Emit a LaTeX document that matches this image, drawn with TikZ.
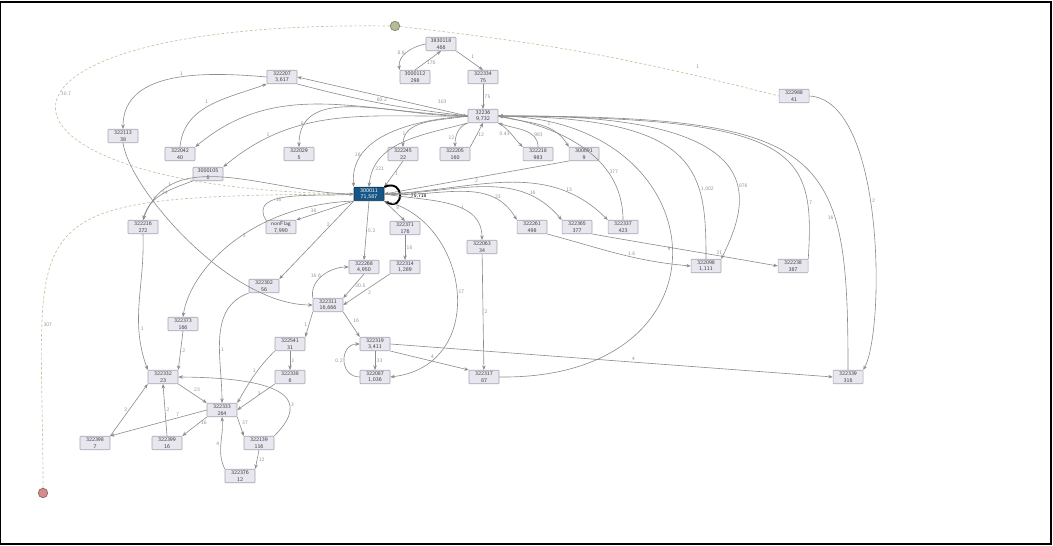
\documentclass[tikz,border=0pt]{standalone}
\usetikzlibrary{arrows.meta}
\definecolor{boxfill}{RGB}{232,230,238}
\definecolor{boxline}{RGB}{165,163,175}
\definecolor{mainblue}{RGB}{22,86,135}
\definecolor{edgegray}{RGB}{140,140,140}
\definecolor{startgreen}{RGB}{178,188,150}
\definecolor{endred}{RGB}{212,140,140}
\definecolor{dashcol}{RGB}{195,198,165}
\tikzset{
  >={Stealth[length=0.9mm,width=0.7mm]},
  box/.style={draw=boxline,fill=boxfill,line width=0.3pt,rounded corners=0.4pt,
    minimum width=0.6cm,minimum height=0.27cm,inner sep=0.3pt,align=center,
    font=\fontsize{3.2}{3.9}\selectfont\sffamily,text=black!75},
  mainbox/.style={box,fill=mainblue,draw=mainblue!60!black,text=white},
  startpt/.style={circle,draw=startgreen!70!black,fill=startgreen,minimum size=0.19cm,inner sep=0pt},
  endpt/.style={circle,draw=endred!70!black,fill=endred,minimum size=0.19cm,inner sep=0pt},
  ed/.style={->,draw=edgegray,line width=0.35pt},
  dashl/.style={draw=dashcol,line width=0.4pt,dash pattern=on 1.5pt off 1.2pt},
  loopst/.style={->,draw=black,line width=1.1pt},
  lab/.style={font=\fontsize{3}{3.5}\selectfont\sffamily,text=gray!85,inner sep=0.8pt}
}
\begin{document}
\begin{tikzpicture}[x=0.02cm,y=-0.02cm]
\useasboundingbox (0,0) rectangle (1053,546);
\draw[black,line width=0.6pt] (0.5,2) rectangle (1051,544);

% start and end
\node[startpt] (start) at (395,26) {};
\node[endpt] (end) at (43,493) {};

% nodes
\node[box] (n3830118) at (441,44) {3830118\\466};
\node[box] (n3000112) at (415,77) {3000112\\298};
\node[box] (n322334) at (483,77) {322334\\75};
\node[box] (n32236) at (483,116) {32236\\9,732};
\node[box] (n322207) at (282,77) {322207\\3,617};
\node[box] (n322113) at (123,136) {322113\\38};
\node[box] (n322042) at (180,154) {322042\\40};
\node[box] (n3000105) at (208,174) {3000105\\6};
\node[box] (n322029) at (299,154) {322029\\5};
\node[box] (n322245) at (403,154) {322245\\22};
\node[box] (n322205) at (455,154) {322205\\160};
\node[box] (n322218) at (538,154) {322218\\983};
\node[box] (n300091) at (584,154) {300091\\9};
\node[box] (n322988) at (794,96) {322988\\41};
\node[mainbox] (n300011) at (369,194) {300011\\71,587};
\node[box] (n322216) at (143,227) {322216\\272};
\node[box] (nonflag) at (281,227) {nonFlag\\7,990};
\node[box] (n322371) at (405,228) {322371\\176};
\node[box] (n322063) at (482,247) {322063\\34};
\node[box] (n322261) at (532,227) {322261\\498};
\node[box] (n322365) at (577,227) {322365\\377};
\node[box] (n322337) at (623,227) {322337\\423};
\node[box] (n322098) at (706,266) {322098\\1,111};
\node[box] (n322238) at (793,266) {322238\\387};
\node[box] (n322302) at (264,286) {322302\\56};
\node[box] (n322268) at (364,267) {322268\\4,950};
\node[box] (n322314) at (405,267) {322314\\1,289};
\node[box] (n322311) at (328,305) {322311\\16,666};
\node[box] (n322373) at (183,324) {322373\\166};
\node[box] (n322541) at (290,344) {322541\\31};
\node[box] (n322338) at (290,377) {322338\\6};
\node[box] (n322319) at (375,344) {322319\\3,411};
\node[box] (n322087) at (375,377) {322087\\1,036};
\node[box] (n322317) at (484,377) {322317\\87};
\node[box] (n322339) at (848,377) {322339\\316};
\node[box] (n322332) at (163,377) {322332\\23};
\node[box] (n322333) at (222,410) {322333\\264};
\node[box] (n322398) at (95,443) {322398\\7};
\node[box] (n322399) at (167,443) {322399\\16};
\node[box] (n322139) at (259,443) {322139\\116};
\node[box] (n322376) at (240,476) {322376\\12};

% dashed start / end lines
\draw[dashl] (start) to[bend left=4] node[lab,pos=0.8,above=3pt] {1} (n322988.west);
\draw[dashl] (start.west) .. controls (-60,20) and (-40,190) .. node[lab,pos=0.45,right] {30.7} (n300011.west);
\draw[dashl] (n300011.west) .. controls (0,196) and (43,210) .. node[lab,pos=0.75,right] {307} (end);

% top part
\draw[ed] (n3830118.west) to[out=190,in=100] node[lab,left] {8.6} (n3000112.north west);
\draw[ed] (n3000112.north) -- node[lab,right,pos=0.4] {176} (n3830118.south);
\draw[ed] (n3830118.south east) -- node[lab,above right] {1} (n322334.north);
\draw[ed] (n322334) -- node[lab,right] {75} (n32236);
\draw[ed] (n32236.west) -- node[lab,above=3pt,pos=0.15] {303} (n322207.east);
\draw[ed] (n322207.south east) to[bend right=4] node[lab,above,pos=0.5] {60.2} (n32236.west);
\draw[ed] (n322207.west) to[out=175,in=90] node[lab,above,pos=0.45] {1} (n322113.north);
\draw[ed] (n322042.north) to[out=85,in=200] node[lab,above left,pos=0.5] {1} (n322207.south west);
\draw[ed] (n32236.west) to[out=178,in=40] (n322042.north east);
\draw[ed] (n32236.west) to[out=181,in=40] node[lab,pos=0.8,above] {1} (n3000105.north east);
\draw[ed] (n32236.west) to[out=182,in=90] node[lab,pos=0.85,left] {8} (n322029.north);
\draw[ed] (n32236.west) to[out=184,in=95] node[lab,pos=0.75,left] {16} (n300011.north west);
\draw[ed] (n32236.south west) to[out=195,in=85] node[lab,pos=0.85,right] {221} (n300011.north);
\draw[ed] (n32236.west) to[out=190,in=90] node[lab,pos=0.8,left] {1} (n322245.north);
\draw[ed] (n32236.south west) to[out=200,in=90] node[lab,pos=0.7,left] {12} (n322205.north);
\draw[ed] (n322205.north east) -- node[lab,right] {12} (n32236.south);
\draw[ed] (n32236.south east) to[out=-30,in=135] node[lab,left,pos=0.5] {0.43} (n322218.north west);
\draw[ed] (n322218.north) to[out=90,in=-20] node[lab,right,pos=0.3] {983} (n32236.south east);
\draw[ed] (n32236.east) to[out=-15,in=120] node[lab,pos=0.6,above right] {1} (n300091.north west);
\draw[ed] (n322245.south) -- node[lab,right] {1} (n300011.north east);
\draw[ed] (n300091.south west) -- node[lab,below] {2} (n300011.east);

% long lines back to 32236
\draw[ed] (n322337.north) to[out=90,in=-10] node[lab,pos=0.3,right] {377} (n32236.east);
\draw[ed] (n322317.east) .. controls (740,380) and (720,120) .. node[lab,pos=0.5,left] {9} (n32236.east);
\draw[ed] (n32236.east) .. controls (780,112) and (750,200) .. node[lab,pos=0.62,right] {876} (n322098.north east);
\draw[ed] (n322098.north) .. controls (706,170) and (700,118) .. node[lab,pos=0.3,right] {1,002} (n32236.east);
\draw[ed] (n322238.north east) .. controls (815,150) and (800,118) .. node[lab,pos=0.2,right] {7} (n32236.east);
\draw[ed] (n322339.north) .. controls (848,150) and (830,116) .. node[lab,pos=0.3,left] {16} (n32236.east);
\draw[ed] (n322988.east) .. controls (885,100) and (885,330) .. node[lab,pos=0.45,right] {2} (n322339.north east);

% self loop
\draw[loopst] (n300011.north east) .. controls (405,178) and (405,212) .. node[lab,right=5pt,yshift=-1pt,text=black] {75,718} (n300011.south east);

% middle part
\draw[ed] (n3000105.south west) to[out=200,in=75] node[lab,pos=0.3,above left] {1} (n322216.north);
\draw[ed] (n300011.west) to[out=180,in=70] node[lab,pos=0.85,right] {24} (n322216.north);
\draw[ed] (n322113.south) .. controls (130,190) and (230,305) .. node[lab,pos=0.3,right] {1} (n322311.west);
\draw[ed] (n300011.south west) -- node[lab,pos=0.7,above] {36} (nonflag.north east);
\draw[ed] (nonflag.north west) to[out=120,in=185] node[lab,pos=0.35,right] {16} (n300011.west);
\draw[ed] (n300011.south west) -- node[lab,pos=0.3,left] {2} (n322302.north east);
\draw[ed] (n300011.south west) .. controls (250,205) and (190,270) .. node[lab,pos=0.45,right] {3} (n322373.north);
\draw[ed] (n300011.south) -- node[lab,right] {5.2} (n322268.north);
\draw[ed] (n300011.south east) -- node[lab,above right] {8} (n322371.north);
\draw[ed] (n322371) -- node[lab,right] {16} (n322314);
\draw[ed] (n322268.south) -- node[lab,right] {20.5} (n322311.north east);
\draw[ed] (n322311.north west) to[out=100,in=180] node[lab,left] {16.6} (n322268.west);
\draw[ed] (n322314.south west) -- node[lab,below right] {2} (n322311.east);
\draw[ed] (n300011.east) to[out=-10,in=90] node[lab,pos=0.6,right] {1} (n322063.north);
\draw[ed] (n300011.east) to[out=-5,in=120] node[lab,pos=0.8,above] {23} (n322261.north west);
\draw[ed] (n300011.east) to[out=0,in=130] node[lab,pos=0.8,above] {16} (n322365.north west);
\draw[ed] (n300011.east) to[out=2,in=135] node[lab,pos=0.8,above] {13} (n322337.north west);
\draw[ed] (n322261.south east) to[out=-15,in=175] node[lab,above,pos=0.6] {1.6} (n322098.west);
\draw[ed] (n322365.south east) to[out=-10,in=170] node[lab,above,pos=0.7] {21} (n322238.west);
\draw[ed] (n322063) -- node[lab,right] {2} (n322317);
\draw[ed] (n300011.south east) .. controls (470,220) and (490,365) .. node[lab,pos=0.5,right] {17} (n322087.east);

% lower part
\draw[ed] (n322302.south west) to[out=200,in=90] node[lab,pos=0.6,right] {1} (n322333.north);
\draw[ed] (n322216.south) to[out=-88,in=110] node[lab,pos=0.7,right] {1} (n322332.north west);
\draw[ed] (n322373.south) -- node[lab,right] {2} (n322332.north east);
\draw[ed] (n322311.south west) -- node[lab,left] {1} (n322541.north east);
\draw[ed] (n322311.south east) -- node[lab,above right] {16} (n322319.north west);
\draw[ed] (n322541) -- node[lab,right] {1} (n322338);
\draw[ed] (n322541.south west) to[out=225,in=60] node[lab,pos=0.4,left] {1} (n322333.north east);
\draw[ed] (n322338.south west) -- node[lab,above right] {3} (n322333.east);
\draw[ed] (n322319) -- node[lab,right] {33} (n322087);
\draw[ed] (n322087.west) to[out=180,in=180,looseness=1.6] node[lab,left] {0.2} (n322319.west);
\draw[ed] (n322319.south east) -- node[lab,above right] {4} (n322317.north west);
\draw[ed] (n322319.east) -- node[lab,pos=0.55,above] {4} (n322339.west);
\draw[ed] (n322332.south east) -- node[lab,above right] {23} (n322333.north west);
\draw[ed] (n322333.west) -- node[lab,above,pos=0.3] {7} (n322398.north east);
\draw[ed] (n322333.south west) -- node[lab,right,pos=0.3] {16} (n322399.north east);
\draw[ed] (n322398.north east) -- node[lab,left] {2} (n322332.south west);
\draw[ed] (n322399.north) -- node[lab,right] {2} (n322332.south);
\draw[ed] (n322333.south east) -- node[lab,above right] {37} (n322139.north west);
\draw[ed] (n322139.north east) .. controls (300,410) and (310,378) .. node[lab,pos=0.4,right] {3} (n322332.east);
\draw[ed] (n322139.south) -- node[lab,right] {12} (n322376.north east);
\draw[ed] (n322376.north west) to[out=115,in=-85] node[lab,left] {4} (n322333.south);
\end{tikzpicture}
\end{document}
